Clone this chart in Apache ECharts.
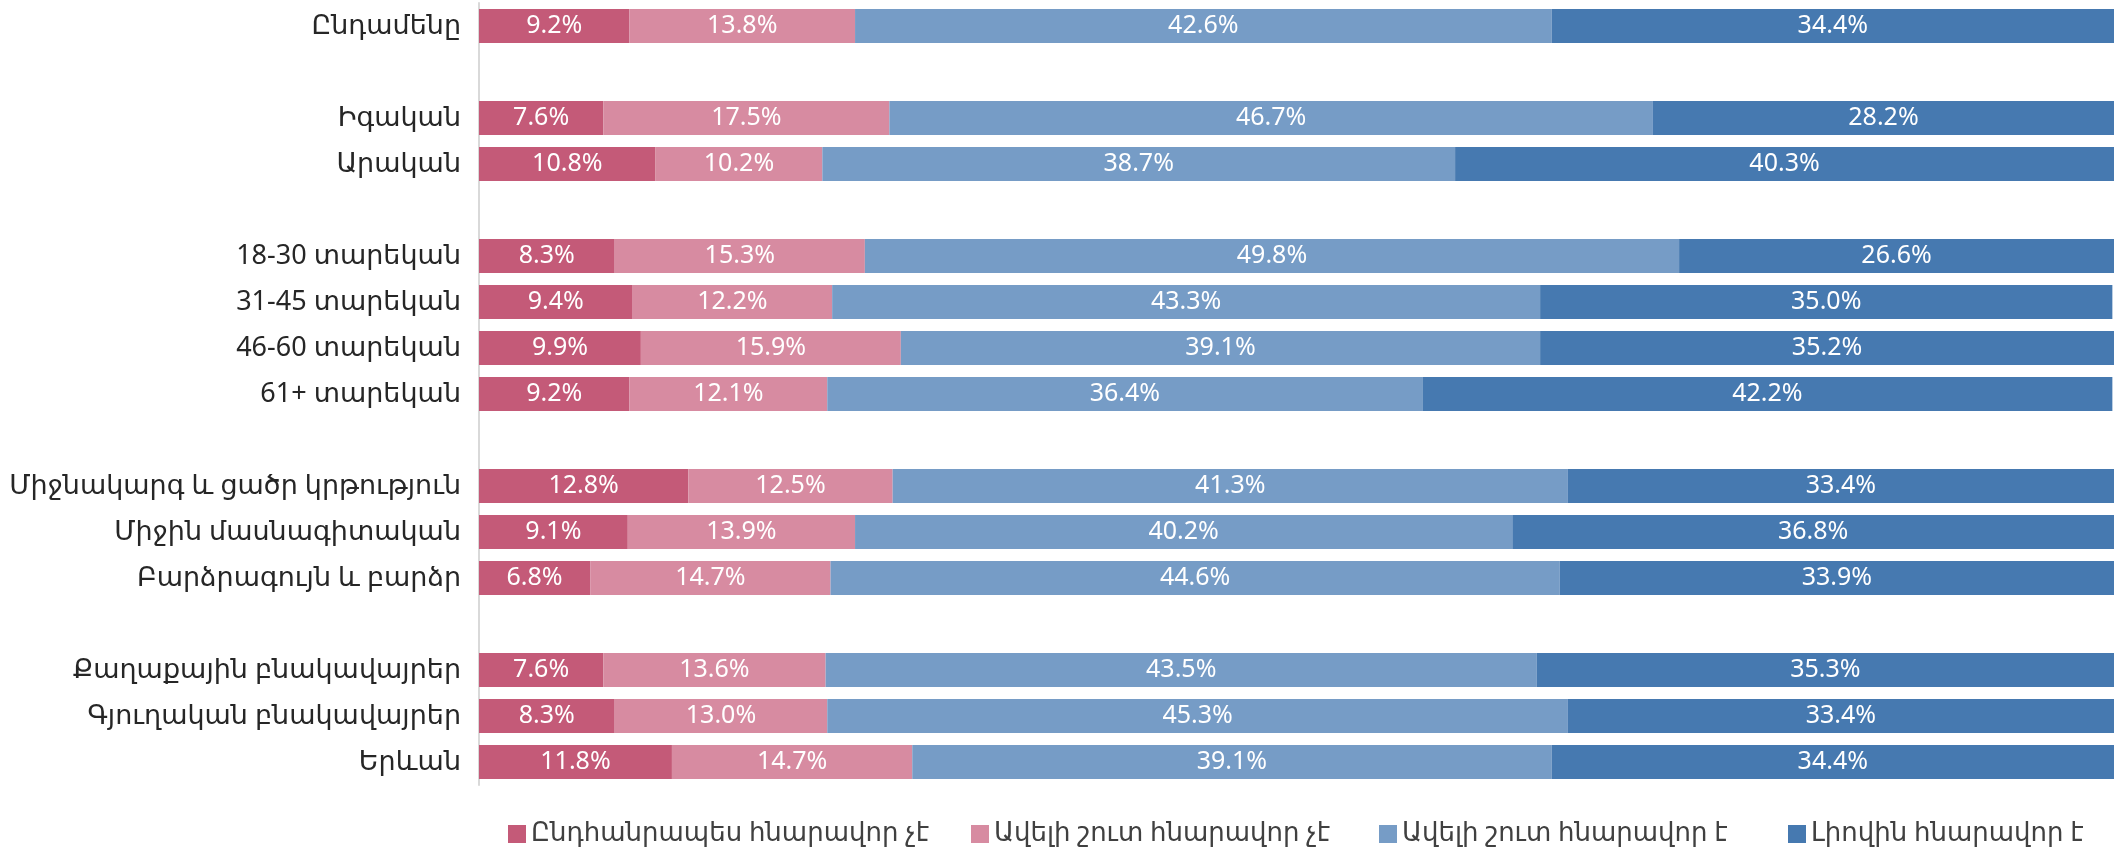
<!DOCTYPE html>
<html>
<head>
<meta charset="utf-8">
<script src="https://cdn.jsdelivr.net/npm/echarts@6/dist/echarts.min.js"></script>
<style>
  html, body { margin: 0; padding: 0; background: #fff; }
  #main { width: 2121px; height: 852px; }
</style>
</head>
<body>
<div id="main"></div>
<script>
// row labels, top to bottom ('' rows are the gaps between groups)
var categories = ['Ընդամենը', '', 'Իգական', 'Արական', '',
  '18-30 տարեկան', '31-45 տարեկան', '46-60 տարեկան', '61+ տարեկան', '',
  'Միջնակարգ և ցածր կրթություն', 'Միջին մասնագիտական', 'Բարձրագույն և բարձր', '',
  'Քաղաքային բնակավայրեր', 'Գյուղական բնակավայրեր', 'Երևան'];

var seriesNames = ['Ընդհանրապես հնարավոր չէ', 'Ավելի շուտ հնարավոր չէ', 'Ավելի շուտ հնարավոր է', 'Լիովին հնարավոր է'];

var notPossible   = [9.2, null, 7.6, 10.8, null, 8.3, 9.4, 9.9, 9.2, null, 12.8, 9.1, 6.8, null, 7.6, 8.3, 11.8];
var ratherNot     = [13.8, null, 17.5, 10.2, null, 15.3, 12.2, 15.9, 12.1, null, 12.5, 13.9, 14.7, null, 13.6, 13.0, 14.7];
var ratherPossible = [42.6, null, 46.7, 38.7, null, 49.8, 43.3, 39.1, 36.4, null, 41.3, 40.2, 44.6, null, 43.5, 45.3, 39.1];
var fullyPossible = [34.4, null, 28.2, 40.3, null, 26.6, 35.0, 35.2, 42.2, null, 33.4, 36.8, 33.9, null, 35.3, 33.4, 34.4];

var colors = ['#C45A78', '#D78BA1', '#769CC6', '#4679B0'];
var font = '"Segoe UI", "Noto Sans", "DejaVu Sans", sans-serif';
// x of each legend entry (one legend per series so they line up like the original)
var legendLefts = [503, 966, 1374, 1783];

var myChart = echarts.init(document.getElementById('main'));

function makeSeries(name, data, i) {
  return {
    name: name,
    type: 'bar',
    stack: 'total',
    data: data,
    barWidth: 34,
    itemStyle: { color: colors[i] },
    label: {
      show: true,
      position: 'inside',
      color: '#fff',
      fontFamily: font,
      fontSize: 25,
      formatter: function (p) { return p.value.toFixed(1) + '%'; }
    }
  };
}

var option = {
  animation: false,
  color: colors,
  grid: { left: 479, right: 7, top: 3, bottom: 67 },
  xAxis: {
    type: 'value',
    min: 0,
    max: 100,
    show: false
  },
  yAxis: {
    type: 'category',
    data: categories,
    inverse: true,
    axisLine: { show: true, lineStyle: { color: '#D9D9D9', width: 2 } },
    axisTick: { show: false },
    axisLabel: { color: '#262626', fontFamily: font, fontSize: 27, margin: 18 }
  },
  legend: seriesNames.map(function (n, i) {
    return {
      data: [n],
      bottom: 0,
      left: legendLefts[i],
      itemWidth: 18,
      itemHeight: 18,
      icon: 'rect',
      textStyle: { color: '#404040', fontFamily: font, fontSize: 26 }
    };
  }),
  series: [
    makeSeries(seriesNames[0], notPossible, 0),
    makeSeries(seriesNames[1], ratherNot, 1),
    makeSeries(seriesNames[2], ratherPossible, 2),
    makeSeries(seriesNames[3], fullyPossible, 3)
  ]
};

myChart.setOption(option);
</script>
</body>
</html>
